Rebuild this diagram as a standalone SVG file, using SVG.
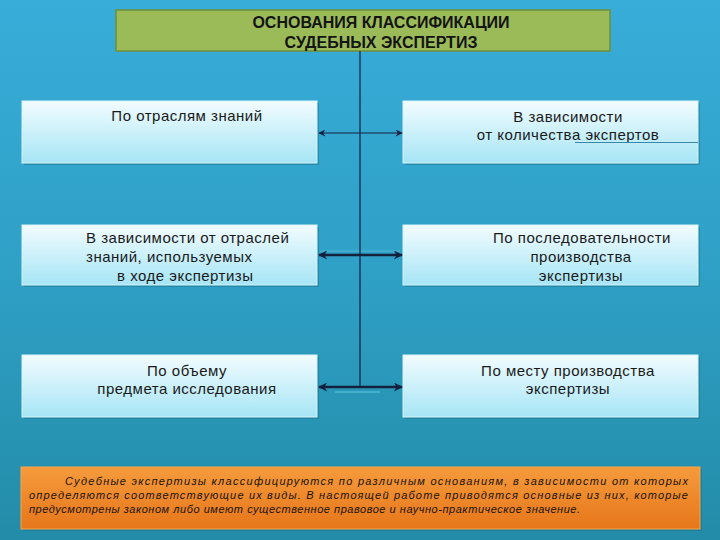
<svg xmlns="http://www.w3.org/2000/svg" width="720" height="540" viewBox="0 0 720 540">
  <defs>
    <linearGradient id="bg" x1="0" y1="0" x2="0" y2="1">
      <stop offset="0" stop-color="#38ADD9"/>
      <stop offset="0.5" stop-color="#2FA0C6"/>
      <stop offset="1" stop-color="#238CA8"/>
    </linearGradient>
    <linearGradient id="boxg" x1="0" y1="0" x2="0" y2="1">
      <stop offset="0" stop-color="#F2FCFF"/>
      <stop offset="1" stop-color="#A6E5F5"/>
    </linearGradient>
    <linearGradient id="orange" x1="0" y1="0" x2="0" y2="1">
      <stop offset="0" stop-color="#F59B3C"/>
      <stop offset="1" stop-color="#E6761A"/>
    </linearGradient>
    <marker id="ah" viewBox="0 0 10 10" refX="9" refY="5" markerWidth="8" markerHeight="7" markerUnits="userSpaceOnUse" orient="auto-start-reverse">
      <path d="M0,0 L10,5 L0,10 L3,5 Z" fill="#14213D"/>
    </marker>
    <marker id="ahb" viewBox="0 0 10 10" refX="9" refY="5" markerWidth="10" markerHeight="9" markerUnits="userSpaceOnUse" orient="auto-start-reverse">
      <path d="M0,0 L10,5 L0,10 L3,5 Z" fill="#14213D"/>
    </marker>
  </defs>
  <style>
    .box { fill: url(#boxg); stroke: #D8F4FB; stroke-width: 1; }
    .shadow { fill: #1A6E86; opacity: 0.45; }
    .t { font-family: "Liberation Sans", Arial, sans-serif; font-size: 15px; letter-spacing: 0.5px; fill: #1A1A1A; }
    .title { font-family: "Liberation Sans", Arial, sans-serif; font-size: 16px; font-weight: bold; fill: #141414; }
    .note { font-family: "Liberation Sans", Arial, sans-serif; font-size: 11px; font-style: italic; fill: #1A1208; }
    .conn { stroke: #14213D; fill: none; }
  </style>

  <rect x="0" y="0" width="720" height="540" fill="url(#bg)"/>

  <g id="title">
    <rect x="116" y="10" width="494" height="41" fill="#9BBB59" stroke="#6F8F3A" stroke-width="1.5"/>
    <text class="title" x="381" y="28" text-anchor="middle">ОСНОВАНИЯ КЛАССИФИКАЦИИ</text>
    <text class="title" x="381" y="48" text-anchor="middle">СУДЕБНЫХ ЭКСПЕРТИЗ</text>
  </g>

  <g id="n1">
    <rect class="shadow" x="24" y="103" width="295" height="62"/>
    <rect class="box" x="22" y="101" width="295" height="62"/>
    <text class="t" x="187" y="121" text-anchor="middle">По отраслям знаний</text>
  </g>
  <g id="n2">
    <rect class="shadow" x="405" y="103" width="295" height="62"/>
    <rect class="box" x="403" y="101" width="295" height="62"/>
    <text class="t" x="568" y="122" text-anchor="middle">В зависимости</text>
    <text class="t" x="568" y="140" text-anchor="middle">от количества экспертов</text>
    <line x1="575" y1="142.5" x2="698" y2="142.5" stroke="#3C86A8" stroke-width="1"/>
  </g>
  <g id="n3">
    <rect class="shadow" x="24" y="227" width="295" height="60"/>
    <rect class="box" x="22" y="225" width="295" height="60"/>
    <text class="t" x="86" y="243">В зависимости от отраслей</text>
    <text class="t" x="86" y="262">знаний, используемых</text>
    <text class="t" x="117" y="281">в ходе экспертизы</text>
  </g>
  <g id="n4">
    <rect class="shadow" x="405" y="227" width="295" height="60"/>
    <rect class="box" x="403" y="225" width="295" height="60"/>
    <text class="t" x="582" y="243" text-anchor="middle">По последовательности</text>
    <text class="t" x="581" y="262" text-anchor="middle">производства</text>
    <text class="t" x="581" y="281" text-anchor="middle">экспертизы</text>
  </g>
  <g id="n5">
    <rect class="shadow" x="24" y="357" width="295" height="62"/>
    <rect class="box" x="22" y="355" width="295" height="62"/>
    <text class="t" x="187" y="376" text-anchor="middle">По объему</text>
    <text class="t" x="187" y="394" text-anchor="middle">предмета исследования</text>
  </g>
  <g id="n6">
    <rect class="shadow" x="405" y="357" width="295" height="62"/>
    <rect class="box" x="403" y="355" width="295" height="62"/>
    <text class="t" x="568" y="376" text-anchor="middle">По месту производства</text>
    <text class="t" x="568" y="394" text-anchor="middle">экспертизы</text>
  </g>

  <g id="connectors">
    <line x1="320" y1="251" x2="400" y2="251" stroke="#5FC3DD" stroke-width="1" opacity="0.7"/>
    <line x1="335" y1="392" x2="380" y2="392" stroke="#5FC3DD" stroke-width="1.5" opacity="0.7"/>
    <line class="conn" x1="360" y1="51" x2="360" y2="386" stroke-width="1.2"/>
    <line class="conn" x1="319" y1="133" x2="402" y2="133" stroke-width="1" marker-start="url(#ah)" marker-end="url(#ah)"/>
    <line class="conn" x1="319" y1="255" x2="402" y2="255" stroke-width="2.5" marker-start="url(#ahb)" marker-end="url(#ahb)"/>
    <line class="conn" x1="319" y1="387" x2="402" y2="387" stroke-width="2.5" marker-start="url(#ahb)" marker-end="url(#ahb)"/>
  </g>

  <g id="note">
    <rect x="23" y="469" width="679" height="62" fill="#1A6E86" opacity="0.45"/>
    <rect x="21" y="467" width="679" height="62" fill="url(#orange)" stroke="#F7A54A" stroke-width="1"/>
    <text class="note" x="65" y="485" textLength="623" lengthAdjust="spacing">Судебные экспертизы классифицируются по различным основаниям, в зависимости от которых</text>
    <text class="note" x="29" y="499" textLength="659" lengthAdjust="spacing">определяются соответствующие их виды. В настоящей работе приводятся основные из них, которые</text>
    <text class="note" x="29" y="513" textLength="551" lengthAdjust="spacing">предусмотрены законом либо имеют существенное правовое и научно-практическое значение.</text>
  </g>
</svg>
